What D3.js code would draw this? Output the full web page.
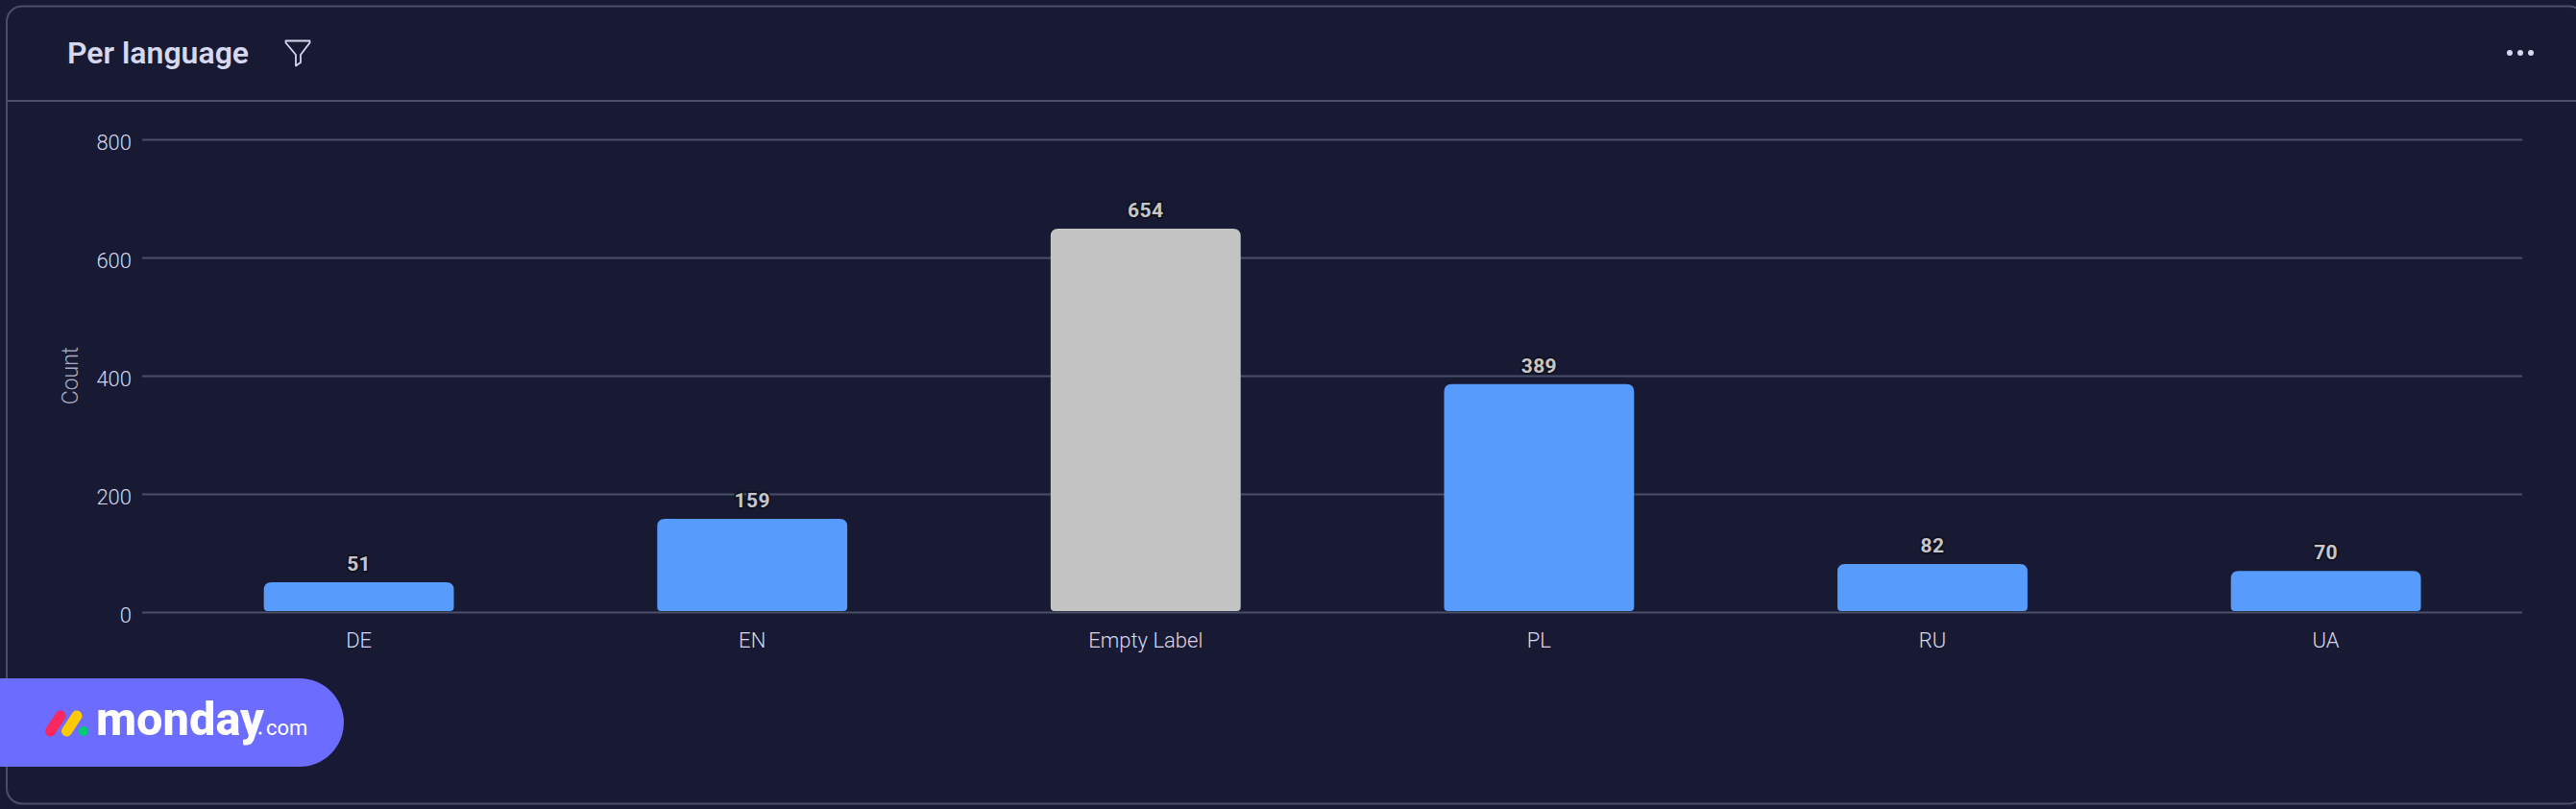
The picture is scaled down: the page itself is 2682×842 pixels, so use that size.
<!DOCTYPE html>
<html><head><meta charset="utf-8">
<script src="https://cdn.jsdelivr.net/npm/d3@7"></script>
<style>
html,body{margin:0;padding:0;background:#181b34;overflow:hidden}
svg{display:block}
text{font-family:Roboto,sans-serif}
</style></head><body>
<svg id="c" width="2682" height="842"></svg>
<script>
const categories = ["DE","EN","Empty Label","PL","RU","UA"];
const counts = [51,159,654,389,82,70];
const barColors = ["#579bfc","#579bfc","#c4c4c4","#579bfc","#579bfc","#579bfc"];
const yTicks = [0,200,400,600,800];
const title = "Per language";
const yLabel = "Count";

const svg = d3.select("#c");
const bg="#181a33", line="#4b4e69", textC="#d5d8ef";
svg.append("rect").attr("width",2682).attr("height",842).attr("fill",bg);
svg.append("rect").attr("x",7).attr("y",6.5).attr("width",2684).attr("height",830).attr("rx",16)
  .attr("fill",bg).attr("stroke",line).attr("stroke-width",2);
svg.append("line").attr("x1",7).attr("x2",2682).attr("y1",105).attr("y2",105).attr("stroke",line).attr("stroke-width",2);

svg.append("text").attr("x",70).attr("y",66).attr("font-size",32).attr("font-weight",600)
  .attr("fill",textC).text(title);
// filter icon
svg.append("path").attr("d","M297.5 42.5 H322.5 L322.5 44.5 L313 57 V65 L308 68.5 V57 L297.5 44.5 Z")
  .attr("fill","none").attr("stroke",textC).attr("stroke-width",1.8).attr("stroke-linejoin","round");
// menu dots
svg.selectAll(".dot").data([2613,2624,2635]).join("circle").attr("class","dot")
  .attr("cx",d=>d).attr("cy",55).attr("r",3).attr("fill",textC);

const y = d3.scaleLinear().domain([0,800]).range([637,145]);
const barY = d3.scaleLinear().domain([0,800]).range([637,149]);
const x = d3.scaleBand().domain(categories).range([168.8,2626.4]).paddingInner(0.517).paddingOuter(0.2585);

const gy = svg.append("g").attr("transform","translate(148,0)")
  .call(d3.axisLeft(y).tickValues(yTicks).tickSize(-2478).tickPadding(11));
gy.select(".domain").remove();
gy.selectAll("line").attr("stroke",line).attr("stroke-width",2);
gy.selectAll("text").attr("font-size",22).attr("font-weight",300).attr("fill",textC).attr("dy","0.48em").attr("font-family","Roboto,sans-serif");

const r=8;
svg.selectAll(".bar").data(categories).join("path").attr("class","bar")
  .attr("fill",(d,i)=>barColors[i])
  .attr("d",(d,i)=>{
    const l=x(d), w=x.bandwidth(), t=barY(counts[i]), b=barY(0)-1;
    const q=4;
    return `M${l} ${b-q}V${t+r}Q${l} ${t} ${l+r} ${t}H${l+w-r}Q${l+w} ${t} ${l+w} ${t+r}V${b-q}Q${l+w} ${b} ${l+w-q} ${b}H${l+q}Q${l} ${b} ${l} ${b-q}Z`;
  });

svg.selectAll(".val").data(categories).join("text").attr("class","val")
  .attr("x",d=>x(d)+x.bandwidth()/2)
  .attr("y",(d,i)=>barY(counts[i])-12)
  .attr("text-anchor","middle").attr("font-size",21).attr("font-weight",700)
  .attr("fill","#c6c6c9").attr("stroke","#0f1120").attr("stroke-width",3.5).attr("paint-order","stroke")
  .attr("letter-spacing",0.4)
  .text((d,i)=>counts[i]);

const gx = svg.append("g").attr("transform","translate(0,637)")
  .call(d3.axisBottom(x).tickSize(0).tickPadding(21));
gx.select(".domain").remove();
gx.selectAll("text").attr("font-size",22).attr("font-weight",300).attr("fill",textC).attr("font-family","Roboto,sans-serif");

svg.append("text").attr("transform","translate(81,391) rotate(-90)").attr("text-anchor","middle")
  .attr("font-size",23).attr("font-weight",300).attr("fill","#a9acc4").text(yLabel);

// logo pill
svg.append("path").attr("d","M0 706H312A46 46 0 0 1 312 798H0Z").attr("fill","#6c6cff");
const lg=svg.append("g").attr("stroke-linecap","round").attr("fill","none").attr("stroke-width",11);
lg.append("line").attr("x1",52.5).attr("y1",761).attr("x2",63).attr("y2",745).attr("stroke","#fb275d");
lg.append("line").attr("x1",69.5).attr("y1",761).attr("x2",80).attr("y2",745).attr("stroke","#ffcb00");
svg.append("circle").attr("cx",87).attr("cy",761).attr("r",5).attr("fill","#00ca72");
svg.append("text").attr("x",100).attr("y",765).attr("font-family","Inter,sans-serif").attr("font-size",48).attr("font-weight",800)
  .attr("fill","#fff").attr("textLength",175).attr("lengthAdjust","spacingAndGlyphs").text("monday");
svg.append("text").attr("x",277).attr("y",765).attr("font-family","Inter,sans-serif").attr("font-size",22).attr("font-weight",400)
  .attr("fill","#fff").text("com");
svg.append("circle").attr("cx",271).attr("cy",763).attr("r",1.6).attr("fill","#fff");
</script>
</body></html>
